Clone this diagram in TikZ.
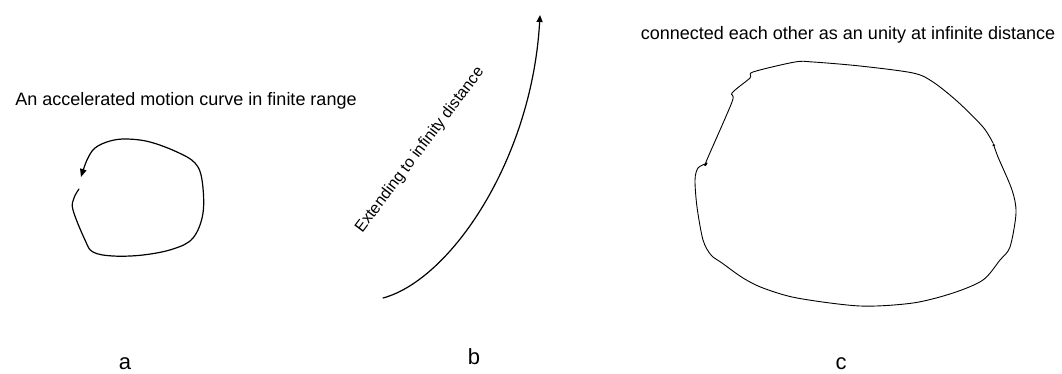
\documentclass[tikz,border=0pt]{standalone}
\usepackage{fontspec}
\setmainfont{Liberation Sans}
\usetikzlibrary{arrows.meta}
\usetikzlibrary{positioning}

\begin{document}
\begin{tikzpicture}[x=1pt, y=-1pt,
  caption/.style={font=\fontsize{18}{20}\selectfont, inner sep=0pt},
  figlabel/.style={font=\fontsize{22}{24}\selectfont, inner sep=0pt},
  handline/.style={line width=1.2pt, line join=round, line cap=round},
  thinline/.style={line width=0.9pt, line join=round, line cap=round}]
  \useasboundingbox (0,0) rectangle (1062,374);

  % a: accelerated motion in finite range
  \node [caption, anchor=base] (capa) at (186,106) {An accelerated motion curve in finite range};
  \draw [handline, -{Triangle[length=8pt,width=6.5pt]}] plot [smooth, tension=0.6] coordinates {
    (79,189) (74,198) (73,210) (85,240) (93,252) (113,256) (143,255) (173,249) (193,238)
    (203,213) (202,180) (195,163) (177,152) (150,142) (127,139) (110,141) (95,148) (87,160) (81,177)};
  \node [figlabel, anchor=base] (laba) at (125,369) {a};

  % b: extending to infinity
  \node [caption, font=\fontsize{16}{18}\selectfont, rotate=53] (capb) at (420,150) {Extending to infinity distance};
  \coordinate (bstart) at (383,298);
  \coordinate (bend) at (540,15);
  \draw [handline, -{Triangle[length=7pt,width=6pt]}] (bstart) .. controls (450,280) and (532,160) .. (bend);
  \node [figlabel, anchor=base] (labb) at (474,364) {b};

  % c: closed at infinite distance
  \node [caption, anchor=base] (capc) at (848,40) {connected each other as an unity at infinite distance};
  \draw [thinline, -{Triangle[length=3pt,width=2.5pt]}] plot [smooth, tension=0.5] coordinates {
    (993,143) (983,127) (958,102) (933,82) (913,73) (860,66) (813,62) (795,62) (753,72) (750,78)
    (732,93) (732,102) (706,162) (707,163) (698,168) (695,180) (697,207) (703,240) (711,255)
    (722,263) (743,278) (763,288) (797,298) (860,306) (913,303) (953,293) (983,280) (1000,260)
    (1010,247) (1016,213) (1012,190) (998,157) (993,143)};
  \node [figlabel, anchor=base] (labc) at (841,369) {c};

\end{tikzpicture}
\end{document}
